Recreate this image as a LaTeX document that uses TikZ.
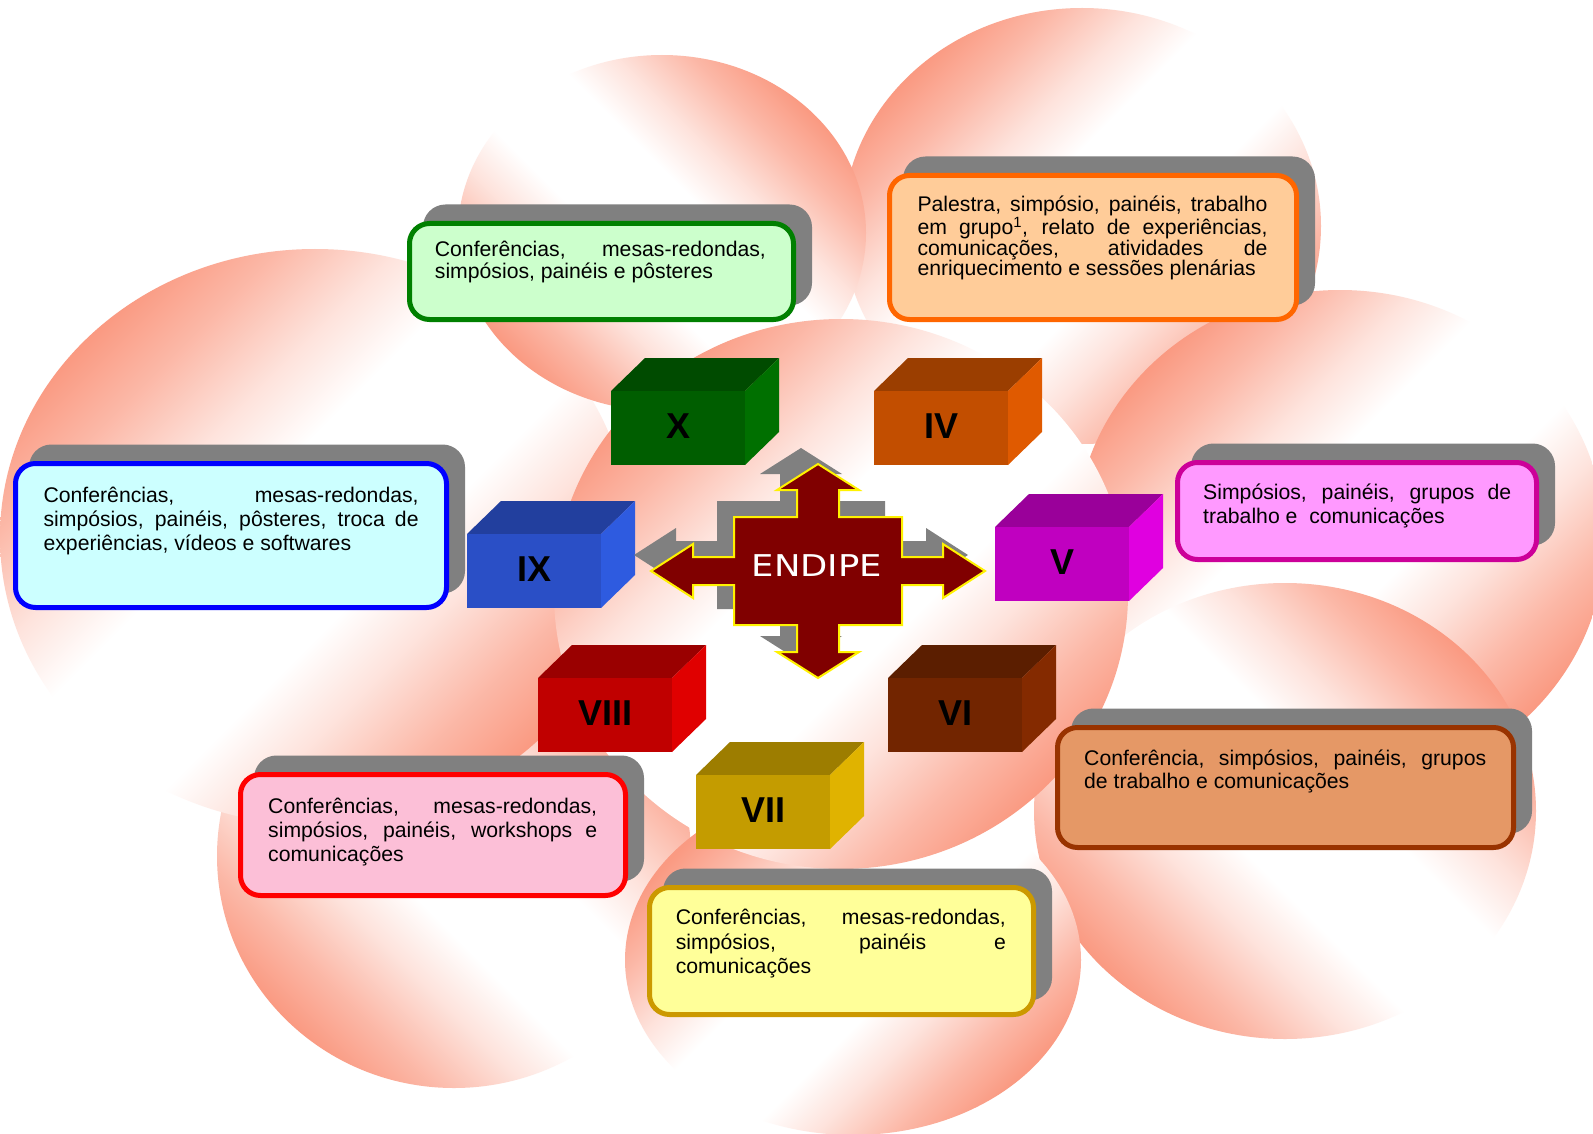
\documentclass[tikz,border=0pt]{standalone}
\usepackage{fontspec}
\setmainfont{Liberation Sans}
\newfontfamily\endipefont[FakeStretch=1.18]{DejaVu Sans}
\usepackage{xcolor}
\usepackage{tikz}
\usetikzlibrary{positioning,shadows}
\definecolor{salmon}{HTML}{FA9A82}
\definecolor{shadowgray}{HTML}{808080}
\definecolor{endipered}{HTML}{800000}
\definecolor{bordergreen}{HTML}{008000}
\definecolor{fillgreen}{HTML}{CCFFCC}
\definecolor{borderorange}{HTML}{FF6600}
\definecolor{fillorange}{HTML}{FFCC99}
\definecolor{borderblue}{HTML}{0000FF}
\definecolor{fillblue}{HTML}{CCFFFF}
\definecolor{bordermagenta}{HTML}{CC0099}
\definecolor{fillmagenta}{HTML}{FF99FF}
\definecolor{borderbrown}{HTML}{993300}
\definecolor{fillbrown}{HTML}{E59866}
\definecolor{borderred}{HTML}{FF0000}
\definecolor{fillpink}{HTML}{FCBFD7}
\definecolor{borderyellow}{HTML}{CC9900}
\definecolor{fillyellow}{HTML}{FFFF99}
\definecolor{cubeXfront}{HTML}{005E00}
\definecolor{cubeXside}{HTML}{007000}
\definecolor{cubeIVfront}{HTML}{C24E00}
\definecolor{cubeIVside}{HTML}{E05A00}
\definecolor{cubeIXfront}{HTML}{2A4FC6}
\definecolor{cubeIXside}{HTML}{2E5BE0}
\definecolor{cubeVfront}{HTML}{C000C0}
\definecolor{cubeVside}{HTML}{E000E0}
\definecolor{cubeVIIIfront}{HTML}{C00000}
\definecolor{cubeVIIIside}{HTML}{E00000}
\definecolor{cubeVIfront}{HTML}{722500}
\definecolor{cubeVIside}{HTML}{842A00}
\definecolor{cubeVIIfront}{HTML}{C49C00}
\definecolor{cubeVIIside}{HTML}{E0B300}
% salmon edges, white band across the middle
\pgfdeclarehorizontalshading{bubbleband}{100bp}{color(0bp)=(salmon); color(25bp)=(salmon);
  color(31bp)=(salmon!70!white); color(38bp)=(salmon!28!white); color(44bp)=(white);
  color(56bp)=(white); color(62bp)=(salmon!28!white); color(69bp)=(salmon!70!white);
  color(75bp)=(salmon); color(100bp)=(salmon)}
% cube: name, x, y (front top left), front, side, label
\newcommand{\tomo}[6]{%
  \fill[#4!80!black] (#2,#3) -- ++(34,-33) -- ++(134,0) -- ++(-34,33) -- cycle;
  \fill[#5] ({#2+134},#3) -- ++(34,-33) -- ++(0,74) -- ++(-34,33) -- cycle;
  \node[cubeface,fill=#4,anchor=north west] (#1) at (#2,#3) {#6};}
\tikzset{
  bubbleup/.style={shading=bubbleband,shading angle=-45},
  bubbledown/.style={shading=bubbleband,shading angle=45},
  descbox/.style 2 args={draw=#1,fill=#2,line width=5pt,rounded corners=20pt,inner sep=0pt,
    general shadow={fill=shadowgray,draw=shadowgray,line width=5pt,shadow xshift=16pt,shadow yshift=16.5pt}},
  desctext/.style={inner sep=0pt,align=justify,font=\fontsize{21.2pt}{#1}\selectfont,
    execute at begin node={\tolerance=10000\hbadness=10000\hyphenpenalty=10000\exhyphenpenalty=10000}},
  cubeface/.style={minimum width=134pt,minimum height=74pt,inner sep=0pt,text height=26pt,text depth=6pt,
    font=\fontsize{36pt}{36pt}\selectfont\bfseries},
  endipelabel/.style={text=white,inner sep=0pt,font=\endipefont\fontsize{30pt}{30pt}\selectfont},
  endipe shape/.pic={\path[pic actions] (0,-107) -- (41,-81) -- (21,-81) -- (21,-54) -- (84,-54)
    -- (84,-14) -- (125,-14) -- (125,-27) -- (167,0) -- (125,27) -- (125,14) -- (84,14) -- (84,54)
    -- (21,54) -- (21,81) -- (41,81) -- (0,107) -- (-41,81) -- (-21,81) -- (-21,54) -- (-84,54)
    -- (-84,14) -- (-125,14) -- (-125,27) -- (-167,0) -- (-125,-27) -- (-125,-14) -- (-84,-14)
    -- (-84,-54) -- (-21,-54) -- (-21,-81) -- (-41,-81) -- cycle;}
}
\begin{document}
\begin{tikzpicture}[x=1pt,y=-1pt]
  \clip (0,0) rectangle (1593,1134);
  \fill[white] (0,0) rectangle (1593,1134);
  % bubbles
  \shade[bubbleup] (1082,226) ellipse [x radius=239pt,y radius=218pt];
  \shade[bubbledown] (454,856) ellipse [x radius=237pt,y radius=232pt];
  \shade[bubbleup] (315,537) ellipse [x radius=315pt,y radius=288pt];
  \shade[bubbledown] (662,233) ellipse [x radius=204pt,y radius=178pt];
  \shade[bubbleup] (1340,540) ellipse [x radius=265pt,y radius=250pt];
  \shade[bubbledown] (1285,811) ellipse [x radius=251pt,y radius=228pt];
  \shade[bubbleup] (853,960) ellipse [x radius=228pt,y radius=175pt];
  \shade[bubbleup] (841,594) ellipse [x radius=287pt,y radius=275pt];
  % description boxes
  \node[descbox={bordergreen}{fillgreen},minimum width=384pt,minimum height=96pt] (boxX) at (601.5,271.5) {};
  \node[desctext=22pt,text width=331pt,below right=35.8pt and 27.7pt of boxX.north west,anchor=base west] (txtX)
    {Conferências, mesas-redondas,\linebreak simpósios, painéis e pôsteres};
  \node[descbox={borderorange}{fillorange},minimum width=407pt,minimum height=144pt] (boxIV) at (1093,247.5) {};
  \node[desctext=20.5pt,text width=350pt,below right=38.7pt and 30.3pt of boxIV.north west,anchor=base west] (txtIV)
    {Palestra, simpósio, painéis, trabalho\linebreak em grupo\textsuperscript{1}, relato de experiências,\linebreak
     comunicações, atividades de\linebreak enriquecimento e sessões plenárias};
  \node[descbox={borderblue}{fillblue},minimum width=431pt,minimum height=144pt] (boxIX) at (231,535.5) {};
  \node[desctext=24pt,text width=375pt,below right=41.7pt and 30.4pt of boxIX.north west,anchor=base west] (txtIX)
    {Conferências, mesas-redondas,\linebreak simpósios, painéis, pôsteres, troca de\linebreak experiências, vídeos e softwares};
  \node[descbox={bordermagenta}{fillmagenta},minimum width=359pt,minimum height=97pt] (boxV) at (1357,511) {};
  \node[desctext=24.3pt,text width=308pt,below right=39pt and 28pt of boxV.north west,anchor=base west] (txtV)
    {Simpósios, painéis, grupos de\linebreak trabalho e\ \ comunicações};
  \node[descbox={borderbrown}{fillbrown},minimum width=456pt,minimum height=120pt] (boxVI) at (1285.5,787.5) {};
  \node[desctext=23pt,text width=402pt,below right=40.2pt and 29pt of boxVI.north west,anchor=base west] (txtVI)
    {Conferência, simpósios, painéis, grupos\linebreak de trabalho e comunicações};
  \node[descbox={borderred}{fillpink},minimum width=385pt,minimum height=121pt] (boxVIII) at (433,835) {};
  \node[desctext=24pt,text width=329pt,below right=41pt and 30pt of boxVIII.north west,anchor=base west] (txtVIII)
    {Conferências, mesas-redondas,\linebreak simpósios, painéis, workshops e\linebreak comunicações};
  \node[descbox={borderyellow}{fillyellow},minimum width=384pt,minimum height=127pt] (boxVII) at (841.5,951) {};
  \node[desctext=24.4pt,text width=330pt,below right=39.6pt and 28.6pt of boxVII.north west,anchor=base west] (txtVII)
    {Conferências, mesas-redondas,\linebreak simpósios, painéis e\linebreak comunicações};
  % numbered cubes
  \tomo{cubeX}{611}{391}{cubeXfront}{cubeXside}{X}
  \tomo{cubeIV}{874}{391}{cubeIVfront}{cubeIVside}{IV}
  \tomo{cubeIX}{467}{534}{cubeIXfront}{cubeIXside}{IX}
  \tomo{cubeV}{995}{527}{cubeVfront}{cubeVside}{V}
  \tomo{cubeVIII}{538}{678}{cubeVIIIfront}{cubeVIIIside}{VIII}
  \tomo{cubeVI}{888}{678}{cubeVIfront}{cubeVIside}{VI}
  \tomo{cubeVII}{696}{775}{cubeVIIfront}{cubeVIIside}{VII}
  % central arrow
  \pic[fill=shadowgray] at (801,555) {endipe shape};
  \pic[fill=endipered,draw=yellow,line width=2pt] at (818,571) {endipe shape};
  \node[endipelabel] (endipe) at (817,566) {ENDIPE};
\end{tikzpicture}
\end{document}
